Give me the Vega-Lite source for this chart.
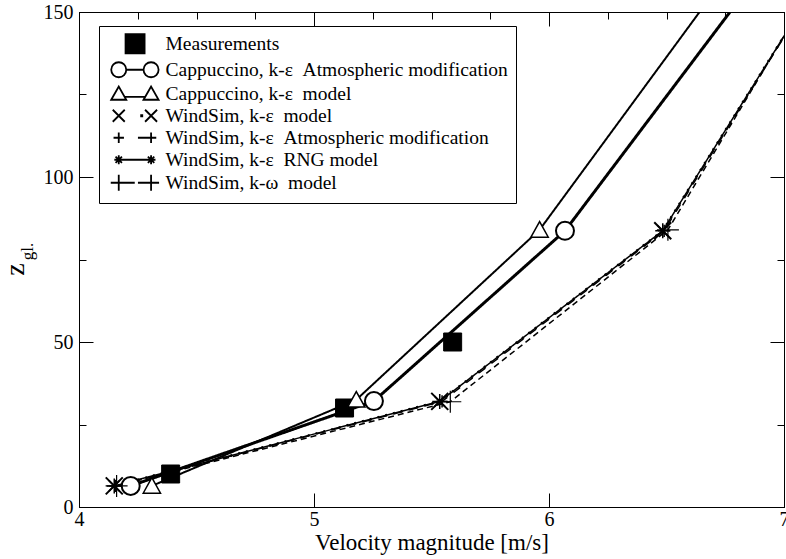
{
  "$schema": "https://vega.github.io/schema/vega-lite/v6.json",
  "width": 705,
  "height": 495,
  "autosize": "none",
  "padding": {"left": 79, "top": 12, "right": 2, "bottom": 52},
  "background": "white",
  "config": {
    "view": {"stroke": "black", "strokeWidth": 1},
    "axis": {
      "grid": false,
      "domainColor": "black",
      "domainWidth": 1,
      "tickColor": "black",
      "tickWidth": 1,
      "labelColor": "black",
      "labelFont": "Liberation Serif",
      "labelFontSize": 20,
      "titleColor": "black",
      "titleFont": "Liberation Serif",
      "titleFontWeight": "normal"
    },
    "legend": {"labelFont": "Liberation Serif"}
  },
  "data": {
    "values": [
      {"s": "Measurements", "x": 4.39, "z": 10, "o": 1},
      {"s": "Measurements", "x": 5.13, "z": 30, "o": 2},
      {"s": "Measurements", "x": 5.59, "z": 50, "o": 3},
      {"s": "Cappuccino, k-ε\u00a0 Atmospheric modification", "x": 4.22, "z": 6.4, "o": 1},
      {"s": "Cappuccino, k-ε\u00a0 Atmospheric modification", "x": 5.255, "z": 32.1, "o": 2},
      {"s": "Cappuccino, k-ε\u00a0 Atmospheric modification", "x": 6.068, "z": 83.7, "o": 3},
      {"s": "Cappuccino, k-ε\u00a0 Atmospheric modification", "x": 6.982, "z": 170, "o": 4},
      {"s": "Cappuccino, k-ε\u00a0 model", "x": 4.31, "z": 6.4, "o": 1},
      {"s": "Cappuccino, k-ε\u00a0 model", "x": 5.18, "z": 32.5, "o": 2},
      {"s": "Cappuccino, k-ε\u00a0 model", "x": 5.96, "z": 84, "o": 3},
      {"s": "Cappuccino, k-ε\u00a0 model", "x": 6.847, "z": 170, "o": 4},
      {"s": "WindSim, k-ε\u00a0 model", "x": 4.15, "z": 6.4, "o": 1},
      {"s": "WindSim, k-ε\u00a0 model", "x": 5.535, "z": 32, "o": 2},
      {"s": "WindSim, k-ε\u00a0 model", "x": 6.484, "z": 83.7, "o": 3},
      {"s": "WindSim, k-ε\u00a0 model", "x": 7.239, "z": 170, "o": 4},
      {"s": "WindSim, k-ε\u00a0 Atmospheric modification", "x": 4.155, "z": 6.4, "o": 1},
      {"s": "WindSim, k-ε\u00a0 Atmospheric modification", "x": 5.545, "z": 32, "o": 2},
      {"s": "WindSim, k-ε\u00a0 Atmospheric modification", "x": 6.49, "z": 83.7, "o": 3},
      {"s": "WindSim, k-ε\u00a0 Atmospheric modification", "x": 7.24, "z": 170, "o": 4},
      {"s": "WindSim, k-ε\u00a0 RNG model", "x": 4.15, "z": 6.4, "o": 1},
      {"s": "WindSim, k-ε\u00a0 RNG model", "x": 5.535, "z": 32, "o": 2},
      {"s": "WindSim, k-ε\u00a0 RNG model", "x": 6.484, "z": 83.7, "o": 3},
      {"s": "WindSim, k-ε\u00a0 RNG model", "x": 7.239, "z": 170, "o": 4},
      {"s": "WindSim, k-ω\u00a0 model", "x": 4.16, "z": 6.4, "o": 1},
      {"s": "WindSim, k-ω\u00a0 model", "x": 5.58, "z": 31.9, "o": 2},
      {"s": "WindSim, k-ω\u00a0 model", "x": 6.506, "z": 84, "o": 3},
      {"s": "WindSim, k-ω\u00a0 model", "x": 7.23, "z": 170, "o": 4}
    ]
  },
  "resolve": {"axis": {"x": "independent", "y": "independent"}},
  "layer": [
    {
      "transform": [{"filter": "datum.s !== 'Measurements'"}],
      "mark": {"type": "line", "clip": true, "color": "black"},
      "encoding": {
        "x": {
          "field": "x", "type": "quantitative",
          "scale": {"domain": [4, 7], "nice": false, "zero": false},
          "axis": {
            "orient": "bottom",
            "values": [4, 4.25, 4.5, 4.75, 5, 5.25, 5.5, 5.75, 6, 6.25, 6.5, 6.75, 7],
            "format": "d",
            "labelExpr": "datum.value % 1 === 0 ? datum.label : ''",
            "tickSize": {"condition": {"test": "datum.value % 1 === 0", "value": -14}, "value": -7},
            "labelPadding": 16,
            "labelFlush": false,
            "labelOverlap": false,
            "title": "Velocity magnitude [m/s]",
            "titleFontSize": 23,
            "titlePadding": 2
          }
        },
        "y": {
          "field": "z", "type": "quantitative",
          "scale": {"domain": [0, 150], "nice": false},
          "axis": {
            "orient": "left",
            "values": [0, 25, 50, 75, 100, 125, 150],
            "format": "d",
            "labelExpr": "datum.value % 50 === 0 ? datum.label : ''",
            "tickSize": {"condition": {"test": "datum.value % 50 === 0", "value": -14}, "value": -7},
            "labelPadding": 20,
            "labelFlush": false,
            "labelOverlap": false,
            "title": "z",
            "titleFontSize": 28,
            "titleAngle": 270,
            "titleAlign": "center",
            "titleBaseline": "middle",
            "titleX": -64,
            "titleY": 257
          }
        },
        "detail": {"field": "s"},
        "order": {"field": "o"},
        "strokeDash": {
          "condition": [
            {"test": "datum.s === 'WindSim, k-ε\u00a0 model'", "value": [2, 6]},
            {"test": "datum.s === 'WindSim, k-ε\u00a0 Atmospheric modification'", "value": [8, 8]},
            {"test": "datum.s === 'WindSim, k-ω\u00a0 model'", "value": [6, 4]}
          ],
          "value": [1, 0]
        },
        "strokeWidth": {
          "condition": [
            {"test": "datum.s === 'Cappuccino, k-ε\u00a0 Atmospheric modification'", "value": 3},
            {"test": "datum.s === 'Cappuccino, k-ε\u00a0 model'", "value": 2},
            {"test": "datum.s === 'WindSim, k-ε\u00a0 model'", "value": 2.5}
          ],
          "value": 1.5
        }
      }
    },
    {
      "mark": {"type": "point", "clip": true, "stroke": "black", "opacity": 1},
      "encoding": {
        "x": {
          "field": "x", "type": "quantitative",
          "axis": {
            "orient": "top",
            "values": [4, 4.25, 4.5, 4.75, 5, 5.25, 5.5, 5.75, 6, 6.25, 6.5, 6.75, 7],
            "labels": false,
            "tickSize": {"condition": {"test": "datum.value % 1 === 0", "value": -14}, "value": -7},
            "title": null
          }
        },
        "y": {
          "field": "z", "type": "quantitative",
          "axis": {
            "orient": "right",
            "values": [0, 25, 50, 75, 100, 125, 150],
            "labels": false,
            "tickSize": {"condition": {"test": "datum.value % 50 === 0", "value": -14}, "value": -7},
            "title": "gl.",
            "titleFontSize": 17,
            "titleAngle": 270,
            "titleAlign": "center",
            "titleBaseline": "middle",
            "titleX": -757,
            "titleY": 239
          }
        },
        "shape": {
          "condition": [
            {"test": "datum.s === 'Measurements'", "value": "square"},
            {"test": "datum.s === 'Cappuccino, k-ε\u00a0 Atmospheric modification'", "value": "circle"},
            {"test": "datum.s === 'Cappuccino, k-ε\u00a0 model'", "value": "M-1,0.85L0,-0.95L1,0.85Z"},
            {"test": "datum.s === 'WindSim, k-ε\u00a0 model'", "value": "M-1,-1L1,1M-1,1L1,-1"},
            {"test": "datum.s === 'WindSim, k-ε\u00a0 RNG model'", "value": "M-1,0L1,0M0,-1L0,1M-0.7,-0.7L0.7,0.7M-0.7,0.7L0.7,-0.7"}
          ],
          "value": "M-1,0L1,0M0,-1L0,1"
        },
        "fill": {
          "condition": [
            {"test": "datum.s === 'Measurements'", "value": "black"},
            {"test": "datum.s === 'Cappuccino, k-ε\u00a0 Atmospheric modification' || datum.s === 'Cappuccino, k-ε\u00a0 model'", "value": "white"}
          ],
          "value": "transparent"
        },
        "size": {
          "condition": [
            {"test": "datum.s === 'Cappuccino, k-ε\u00a0 model'", "value": 300},
            {"test": "datum.s === 'WindSim, k-ε\u00a0 model'", "value": 289},
            {"test": "datum.s === 'WindSim, k-ε\u00a0 Atmospheric modification'", "value": 150},
            {"test": "datum.s === 'WindSim, k-ε\u00a0 RNG model'", "value": 225},
            {"test": "datum.s === 'WindSim, k-ω\u00a0 model'", "value": 484}
          ],
          "value": 324
        },
        "strokeWidth": {
          "condition": [
            {"test": "datum.s === 'Measurements'", "value": 1},
            {"test": "datum.s === 'Cappuccino, k-ε\u00a0 Atmospheric modification' || datum.s === 'WindSim, k-ε\u00a0 model'", "value": 2},
            {"test": "datum.s === 'WindSim, k-ω\u00a0 model'", "value": 1.2}
          ],
          "value": 1.5
        }
      }
    },
    {
      "transform": [{"filter": "datum.s === 'legend only'"}],
      "mark": {"type": "point", "filled": true, "fill": "white", "stroke": "black", "strokeWidth": 1.8, "opacity": 1},
      "encoding": {
        "x": {"field": "x", "type": "quantitative", "axis": null},
        "y": {"field": "z", "type": "quantitative", "axis": null},
        "shape": {
          "field": "s", "type": "nominal",
          "scale": {
            "domain": ["Measurements", "Cappuccino, k-ε\u00a0 Atmospheric modification", "Cappuccino, k-ε\u00a0 model", "WindSim, k-ε\u00a0 model", "WindSim, k-ε\u00a0 Atmospheric modification", "WindSim, k-ε\u00a0 RNG model", "WindSim, k-ω\u00a0 model"],
            "range": [
              "M0.85,-1.19L3.23,-1.19L3.23,1.19L0.85,1.19ZM0.85,-1L3.23,-1M0.85,-0.8L3.23,-0.8M0.85,-0.6L3.23,-0.6M0.85,-0.4L3.23,-0.4M0.85,-0.2L3.23,-0.2M0.85,0L3.23,0M0.85,0.2L3.23,0.2M0.85,0.4L3.23,0.4M0.85,0.6L3.23,0.6M0.85,0.8L3.23,0.8M0.85,1L3.23,1",
              "M-0.94,0A0.94,0.94,0,1,0,0.94,0A0.94,0.94,0,1,0,-0.94,0ZM0.94,0L3.1,0M3.1,0A0.94,0.94,0,1,0,4.98,0A0.94,0.94,0,1,0,3.1,0Z",
              "M-0.94,0.75L0,-0.9L0.94,0.75ZM0.74,0.4L3.3,0.4M3.1,0.75L4.04,-0.9L4.98,0.75Z",
              "M-0.75,-0.75L0.75,0.75M-0.75,0.75L0.75,-0.75M3.29,-0.75L4.79,0.75M3.29,0.75L4.79,-0.75M2.8,-0.06L2.94,-0.06L2.94,0.06L2.8,0.06Z",
              "M-0.65,0L0.65,0M0,-0.65L0,0.65M3.39,0L4.69,0M4.04,-0.65L4.04,0.65M2.4,0L3.39,0",
              "M-0.55,0L0.55,0M0,-0.55L0,0.55M-0.4,-0.4L0.4,0.4M-0.4,0.4L0.4,-0.4M3.49,0L4.59,0M4.04,-0.55L4.04,0.55M3.64,-0.4L4.44,0.4M3.64,0.4L4.44,-0.4M0,0L4.04,0",
              "M-1,0L1,0M0,-1L0,1M3.04,0L5.04,0M4.04,-1L4.04,1M1,0L2,0M2.4,0L3.04,0"
            ]
          },
          "legend": {
            "orient": "none",
            "legendX": 20,
            "legendY": 14,
            "title": null,
            "strokeColor": "black",
            "fillColor": "white",
            "padding": 8,
            "labelFont": "Liberation Serif",
            "labelFontSize": 19.5,
            "labelColor": "black",
            "labelLimit": 0,
            "symbolSize": 256,
            "symbolStrokeWidth": 1.8,
            "symbolOpacity": 1,
            "rowPadding": 1,
            "labelOffset": 37,
            "symbolOffset": 2
          }
        }
      }
    }
  ]
}
